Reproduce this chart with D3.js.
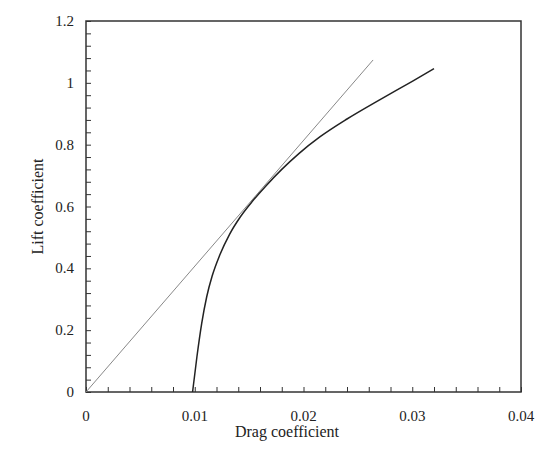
<!DOCTYPE html>
<html>
<head>
<meta charset="utf-8">
<script src="https://cdn.jsdelivr.net/npm/d3@7"></script>
<style>
  body { margin: 0; background: #fff; }
</style>
</head>
<body>
<div id="wrapper"></div>
<script>
// values
const polarCD = [0.0098, 0.0102, 0.01064, 0.0111, 0.0116, 0.0123, 0.0132, 0.0142, 0.0153, 0.0165, 0.0180, 0.0196, 0.0215, 0.0240, 0.0270, 0.0300, 0.0320]
const polarCL = [0, 0.114, 0.222, 0.308, 0.375, 0.443, 0.510, 0.567, 0.617, 0.665, 0.720, 0.772, 0.825, 0.883, 0.945, 1.005, 1.046]
const tangentCD = [0, 0.0264]
const tangentCL = [0, 1.074]

const xTicks = [0, 0.01, 0.02, 0.03, 0.04]
const xTickLabels = ["0", "0.01", "0.02", "0.03", "0.04"]
const yTicks = [0, 0.2, 0.4, 0.6, 0.8, 1, 1.2]
const yTickLabels = ["0", "0.2", "0.4", "0.6", "0.8", "1", "1.2"]
const xMinorStep = 0.002
const yMinorStep = 0.04

const serif = '"Liberation Serif", "DejaVu Serif", "Times New Roman", serif'

const dimensions = {
    width: 535,
    height: 453,
    margin: { top: 21, right: 14, bottom: 61, left: 86 }
}
dimensions.boundedWidth = dimensions.width - dimensions.margin.left - dimensions.margin.right
dimensions.boundedHeight = dimensions.height - dimensions.margin.top - dimensions.margin.bottom

const wrapper = d3.select("#wrapper").append("svg")
    .attr("width", dimensions.width)
    .attr("height", dimensions.height)
const bounded = wrapper.append("g")
    .attr("transform", `translate(${dimensions.margin.left},${dimensions.margin.top})`)

const xScale = d3.scaleLinear().domain([0, 0.04]).range([0, dimensions.boundedWidth])
const yScale = d3.scaleLinear().domain([0, 1.2]).range([dimensions.boundedHeight, 0])

// minor + major ticks, pointing inward
const xMinor = d3.range(0, 0.04 + 1e-9, xMinorStep)
const yMinor = d3.range(0, 1.2 + 1e-9, yMinorStep)

bounded.append("g")
    .attr("transform", `translate(0,${dimensions.boundedHeight})`)
    .call(d3.axisBottom(xScale).tickValues(xMinor).tickSize(-5).tickFormat(""))
    .call(g => g.select(".domain").remove())
bounded.append("g")
    .call(d3.axisLeft(yScale).tickValues(yMinor).tickSize(-5).tickFormat(""))
    .call(g => g.select(".domain").remove())
bounded.selectAll(".tick line").attr("stroke", "#333").attr("stroke-width", 1)

// tick labels
bounded.selectAll(".xlab").data(xTicks).join("text")
    .attr("class", "xlab")
    .attr("x", d => xScale(d))
    .attr("y", dimensions.boundedHeight + 29)
    .attr("text-anchor", "middle")
    .style("font-family", serif)
    .style("font-size", "15px")
    .style("fill", "#222")
    .text((d, i) => xTickLabels[i])
bounded.selectAll(".ylab").data(yTicks).join("text")
    .attr("class", "ylab")
    .attr("x", -12)
    .attr("y", d => yScale(d) + 5)
    .attr("text-anchor", "end")
    .style("font-family", serif)
    .style("font-size", "15px")
    .style("fill", "#222")
    .text((d, i) => yTickLabels[i])

// frame
bounded.append("rect")
    .attr("width", dimensions.boundedWidth)
    .attr("height", dimensions.boundedHeight)
    .attr("fill", "none")
    .attr("stroke", "#333")
    .attr("stroke-width", 1.5)

const line = d3.line().x(d => xScale(d[0])).y(d => yScale(d[1]))

bounded.append("path")
    .datum(d3.zip(tangentCD, tangentCL))
    .attr("d", line)
    .attr("fill", "none")
    .attr("stroke", "#888")
    .attr("stroke-width", 1)

bounded.append("path")
    .datum(d3.zip(polarCD, polarCL))
    .attr("d", line.curve(d3.curveMonotoneX))
    .attr("fill", "none")
    .attr("stroke", "#222")
    .attr("stroke-width", 1.5)

// axis titles
wrapper.append("text")
    .attr("x", 287)
    .attr("y", 437)
    .attr("text-anchor", "middle")
    .style("font-family", serif)
    .style("font-size", "16px")
    .style("fill", "#222")
    .text("Drag coefficient")
wrapper.append("text")
    .attr("transform", `translate(43,${dimensions.margin.top + dimensions.boundedHeight / 2}) rotate(-90)`)
    .attr("text-anchor", "middle")
    .style("font-family", serif)
    .style("font-size", "16px")
    .style("fill", "#222")
    .text("Lift coefficient")
</script>
</body>
</html>
